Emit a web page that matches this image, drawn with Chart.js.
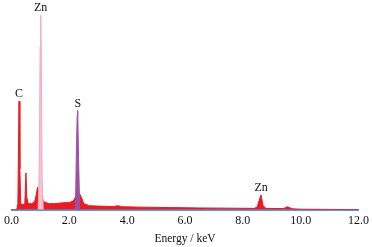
<!DOCTYPE html>
<html>
<head>
<meta charset="utf-8">
<script src="https://cdn.jsdelivr.net/npm/chart.js@4/dist/chart.umd.min.js"></script>
<style>
    html, body { margin: 0; padding: 0; background: #fff; }
    #grafico { width: 373px; height: 247px; }
</style>
</head>
<body>
<div id="grafico"><canvas id="espectro"></canvas></div>
<script>
// Espectro EDS: energia (keV) y cuentas relativas
const energias = [0.0, 0.18, 0.22, 0.26, 0.29, 0.32, 0.4, 0.46, 0.5, 0.53, 0.58, 0.7, 0.8, 0.85, 0.9, 0.93, 0.97, 1.0, 1.04, 1.1, 1.3, 1.5, 1.8, 2.0, 2.15, 2.2, 2.28, 2.35, 2.42, 2.5, 2.7, 3.0, 3.5, 3.7, 3.8, 4.5, 5.5, 6.5, 7.5, 8.4, 8.5, 8.56, 8.63, 8.7, 8.8, 9.4, 9.55, 9.7, 10.0, 11.0, 12.0];
const cuentas  = [0, 0, 3, 53, 20, 3, 2.5, 3, 18, 6, 3, 3, 4, 7, 11, 8, 12, 12, 8, 4, 3, 3, 3.5, 3.5, 4.5, 6, 8, 8, 6, 3, 2, 1.8, 1.6, 2, 1.5, 1.3, 1.1, 0.9, 0.8, 0.7, 1.5, 4.5, 7.2, 2, 0.7, 0.6, 1.5, 0.5, 0.3, 0.2, 0.1];

// Pico Zn L (rosa) y pico S K (violeta)
const energiasZn = [0.92, 0.96, 0.99, 1.01, 1.03, 1.06, 1.1];
const cuentasZn  = [0, 20, 80, 95, 75, 15, 0];
const energiasS  = [2.21, 2.24, 2.27, 2.29, 2.32, 2.36];
const cuentasS   = [0, 25, 46, 48.5, 25, 0];

// Etiquetas de los picos
const etiquetas       = ['C', 'Zn', 'S', 'Zn'];
const etiquetaEnergia = [0.26, 1.01, 2.29, 8.63];
const etiquetaCuenta  = [53, 95, 48.5, 7.2];

const ticksX = [0, 2, 4, 6, 8, 10, 12];

function puntos(xs, ys) {
    return xs.map((x, i) => ({ x: x, y: ys[i] }));
}

// Plugin para escribir el nombre del elemento sobre cada pico
const etiquetasPicos = {
    id: 'etiquetasPicos',
    afterDatasetsDraw(chart) {
        const ctx = chart.ctx;
        const x = chart.scales.x;
        const y = chart.scales.y;
        ctx.save();
        ctx.font = '12px "Liberation Serif"';
        ctx.fillStyle = '#111';
        ctx.textAlign = 'center';
        ctx.textBaseline = 'bottom';
        etiquetas.forEach((t, i) => {
            ctx.fillText(t, x.getPixelForValue(etiquetaEnergia[i]), y.getPixelForValue(etiquetaCuenta[i]) - 1);
        });
        ctx.restore();
    }
};

document.addEventListener("DOMContentLoaded", function () {
    const ctx = document.getElementById('espectro').getContext('2d');
    new Chart(ctx, {
        type: 'line',
        data: {
            datasets: [
                {
                    data: puntos(energias, cuentas),
                    borderColor: '#e81c24',
                    backgroundColor: '#e81c24',
                    borderWidth: 1,
                    fill: 'origin',
                    pointRadius: 0,
                    tension: 0,
                    order: 3
                },
                {
                    data: puntos(energiasZn, cuentasZn),
                    borderColor: '#f4a9c0',
                    backgroundColor: '#f7c3d3',
                    borderWidth: 1,
                    fill: 'origin',
                    pointRadius: 0,
                    tension: 0,
                    order: 1
                },
                {
                    data: puntos(energiasS, cuentasS),
                    borderColor: '#a052a8',
                    backgroundColor: '#9b4fa3',
                    borderWidth: 1,
                    fill: 'origin',
                    pointRadius: 0,
                    tension: 0,
                    order: 1
                }
            ]
        },
        options: {
            responsive: true,
            maintainAspectRatio: false,
            animation: false,
            layout: { padding: { top: 5, left: 0, right: 2, bottom: 0 } },
            plugins: {
                legend: { display: false },
                tooltip: { enabled: false }
            },
            scales: {
                x: {
                    type: 'linear',
                    min: 0,
                    max: 12,
                    afterBuildTicks: axis => { axis.ticks = ticksX.map(v => ({ value: v })); },
                    grid: { display: false, drawTicks: false, tickLength: 0 },
                    border: { color: '#5b9bd5', width: 2 },
                    ticks: {
                        color: '#111',
                        padding: 4,
                        maxRotation: 0,
                        font: { family: 'Liberation Serif', size: 12 },
                        callback: v => v.toFixed(1)
                    },
                    title: {
                        display: true,
                        text: 'Energy / keV',
                        color: '#111',
                        padding: { top: 0, bottom: 1 },
                        font: { family: 'Liberation Serif', size: 11.5 }
                    }
                },
                y: {
                    display: false,
                    min: 0,
                    max: 100
                }
            }
        },
        plugins: [etiquetasPicos]
    });
});
</script>
</body>
</html>
